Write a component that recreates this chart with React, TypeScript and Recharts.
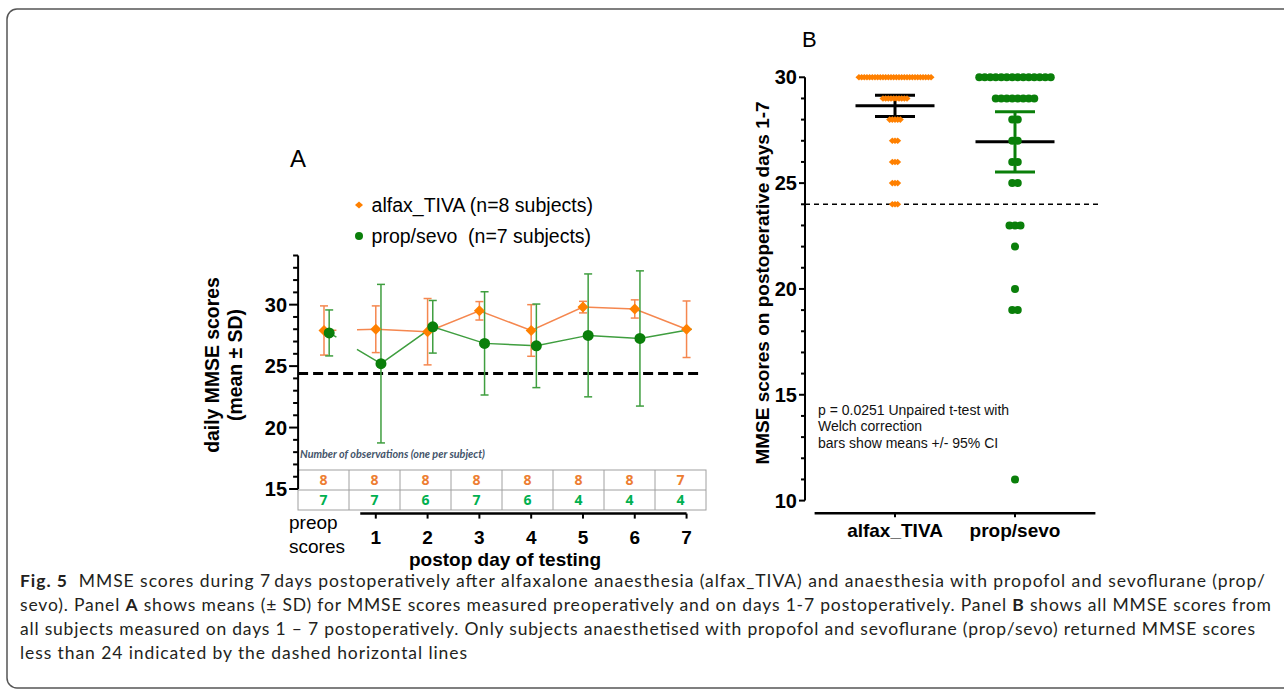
import {
  ComposedChart, Line, Scatter, XAxis, YAxis, ErrorBar, ReferenceLine, Legend,
} from 'recharts';

// ---- panel A: daily means ± SD (0 = preop, 1..7 = postop day) ----
const dayIdx = [0, 1, 2, 3, 4, 5, 6, 7];
const dayTicks = [1, 2, 3, 4, 5, 6, 7];
const alfaxMean = [27.9, 28.0, 27.8, 29.5, 27.9, 29.8, 29.65, 28.0];
const alfaxSd   = [2.0, 1.9, 2.7, 0.75, 2.1, 0.47, 0.74, 2.3];
const propMean  = [27.7, 25.2, 28.2, 26.85, 26.65, 27.5, 27.25, 28.0];
const propSd    = [1.87, 6.45, 2.14, 4.2, 3.4, 5.0, 5.5, 0];
const alfaxN = [8, 8, 8, 8, 8, 8, 8, 7];
const propN  = [7, 7, 6, 7, 6, 4, 4, 4];
const scoreTicksA = [15, 16, 17, 18, 19, 20, 21, 22, 23, 24, 25, 26, 27, 28, 29, 30, 31, 32, 33, 34];
const cutoffA = 24.4;

// ---- panel B: all postop scores, days 1-7 ----
const groups = ['alfax_TIVA', 'prop/sevo'];
const alfaxScores = [30, 29, 28, 27, 26, 25, 24];
const alfaxCounts = [28, 10, 5, 3, 3, 3, 3];
const propScores  = [30, 29, 28, 27, 26, 25, 23, 22, 20, 19, 11];
const propCounts  = [14, 8, 2, 2, 2, 2, 3, 1, 1, 2, 1];
const groupMean = [28.65, 26.95];
const groupCi   = [0.5, 1.42];
const scoreTicksB = [10, 11, 12, 13, 14, 15, 16, 17, 18, 19, 20, 21, 22, 23, 24, 25, 26, 27, 28, 29, 30];
const cutoffB = 24;

const SANS = '"Liberation Sans", Arial, sans-serif';
const CAPTION_FONT = 'Lato, "Noto Sans", sans-serif';
const ORANGE = '#ff8000';
const ORANGE_LINE = '#f5874f';
const GREEN = '#0a7f0a';
const GREEN_LINE = '#3f9e3f';
const TABLE_ORANGE = '#ed7d31';
const TABLE_GREEN = '#00b050';

const alfaxPts = dayIdx.map((x, i) => ({ x, y: alfaxMean[i], sd: alfaxSd[i] }));
const propPts  = dayIdx.map((x, i) => ({ x, y: propMean[i], sd: propSd[i] }));

// one point per observation; k = slot within its row (centred)
function swarm(g: number, scores: number[], counts: number[]) {
  const out: { x: number; y: number; k: number }[] = [];
  scores.forEach((s, i) => {
    const n = counts[i];
    for (let k = 0; k < n; k++) out.push({ x: g, y: s, k: k - (n - 1) / 2 });
  });
  return out;
}
const alfaxSwarm = swarm(1, alfaxScores, alfaxCounts);
const propSwarm  = swarm(2, propScores, propCounts);
const meansB = groups.map((_, i) => ({ x: i + 1, y: groupMean[i], ci: groupCi[i] }));

function TickA(p: any) {
  const v = p.payload.value;
  const major = v % 5 === 0;
  return (
    <g>
      <line x1={p.x} x2={p.x - (major ? 9 : 5)} y1={p.y} y2={p.y} stroke="#000" strokeWidth={2} />
      {major && (
        <text x={p.x - 11} y={p.y} dy="0.36em" textAnchor="end" fontSize={20} fontWeight={700} fontFamily={SANS} fill="#000">{v}</text>
      )}
    </g>
  );
}

function TickB(p: any) {
  const v = p.payload.value;
  const major = v % 5 === 0;
  return (
    <g>
      <line x1={p.x} x2={p.x - (major ? 6 : 4)} y1={p.y} y2={p.y} stroke="#000" strokeWidth={2} />
      {major && (
        <text x={p.x - 8} y={p.y} dy="0.36em" textAnchor="end" fontSize={20} fontWeight={700} fontFamily={SANS} fill="#000">{v}</text>
      )}
    </g>
  );
}

const diamondDot = (p: any) => (
  <polygon key={`d${p.index}`} fill={ORANGE}
    points={`${p.cx - 5.5},${p.cy} ${p.cx},${p.cy - 5.5} ${p.cx + 5.5},${p.cy} ${p.cx},${p.cy + 5.5}`} />
);
const circleDot = (p: any) => <circle key={`c${p.index}`} cx={p.cx} cy={p.cy} r={5.5} fill={GREEN} />;

const swarmDiamond = (p: any) => {
  const cx = p.cx + p.payload.k * 2.67;
  return <polygon fill={ORANGE} points={`${cx - 3.5},${p.cy} ${cx},${p.cy - 3.3} ${cx + 3.5},${p.cy} ${cx},${p.cy + 3.3}`} />;
};
const swarmCircle = (p: any) => <circle cx={p.cx + p.payload.k * 5.5} cy={p.cy} r={4} fill={GREEN} />;
const meanBar = (p: any) => (
  <line x1={p.cx - 39.5} x2={p.cx + 39.5} y1={p.cy} y2={p.cy} stroke="#000" strokeWidth={3} />
);

function LegendA({ payload }: any) {
  const items = (payload || []).filter((e: any) => e.type === 'diamond' || e.type === 'circle');
  return (
    <div style={{ fontFamily: SANS, fontSize: 19.5, color: '#000' }}>
      {items.map((e: any) => (
        <div key={e.value} style={{ display: 'flex', alignItems: 'center', height: 31, whiteSpace: 'pre' }}>
          <svg width={14} height={14}>
            {e.type === 'diamond'
              ? <polygon points="3,7 7,3.5 11,7 7,10.5" fill={ORANGE} />
              : <circle cx={7} cy={7} r={4} fill={GREEN} />}
          </svg>
          <span style={{ marginLeft: 5.6 }}>{e.value}</span>
        </div>
      ))}
    </div>
  );
}

function PanelA() {
  return (
    <ComposedChart width={720} height={560} margin={{ top: 255.5, right: 17.9, bottom: 16.4, left: 238.1 }}>
      <XAxis xAxisId="o" type="number" dataKey="x" domain={[-0.5, 7.3]} allowDataOverflow
        ticks={dayTicks} interval={0} height={30} axisLine={false}
        tickLine={{ stroke: '#000', strokeWidth: 2 }} tickSize={5} tickMargin={12}
        tick={{ fontSize: 19, fontWeight: 700, fill: '#000', fontFamily: SANS }} />
      <XAxis xAxisId="g" type="number" dataKey="x" domain={[-0.6, 7.2]} allowDataOverflow hide
        orientation="top" height={0} />
      <YAxis type="number" domain={[13, 34]} allowDataOverflow ticks={scoreTicksA} interval={0} width={60}
        axisLine={false} tickLine={false} tickSize={0} tickMargin={0} tick={(p: any) => <TickA {...p} />} />

      <ReferenceLine xAxisId="o" segment={[{ x: -0.5, y: 15 }, { x: -0.5, y: 34 }]} stroke="#000" strokeWidth={2} ifOverflow="visible" />
      <ReferenceLine xAxisId="o" segment={[{ x: 0.7, y: 13 }, { x: 7, y: 13 }]} stroke="#000" strokeWidth={2.5} ifOverflow="visible" />
      <ReferenceLine xAxisId="o" y={cutoffA} stroke="#000" strokeWidth={3} strokeDasharray="10 5" />

      {/* preop -> day 1 connectors, broken in the middle */}
      <Line xAxisId="o" data={alfaxPts.slice(0, 2)} dataKey="y" stroke={ORANGE_LINE} strokeWidth={1.5}
        strokeDasharray="12.4 20.6 100" dot={false} activeDot={false} legendType="none" isAnimationActive={false} />
      <Line xAxisId="g" data={propPts.slice(0, 2)} dataKey="y" stroke={GREEN_LINE} strokeWidth={1.5}
        strokeDasharray="8.4 23.9 100" dot={false} activeDot={false} legendType="none" isAnimationActive={false} />
      <Line xAxisId="o" data={alfaxPts.slice(1)} dataKey="y" stroke={ORANGE_LINE} strokeWidth={1.5}
        dot={false} activeDot={false} legendType="none" isAnimationActive={false} />
      <Line xAxisId="g" data={propPts.slice(1)} dataKey="y" stroke={GREEN_LINE} strokeWidth={1.5}
        dot={false} activeDot={false} legendType="none" isAnimationActive={false} />

      <Line xAxisId="o" data={alfaxPts} dataKey="y" name="alfax_TIVA (n=8 subjects)" stroke="none"
        dot={diamondDot} activeDot={false} legendType="diamond" isAnimationActive={false}>
        <ErrorBar dataKey="sd" direction="y" width={4} stroke={ORANGE_LINE} strokeWidth={1.5} />
      </Line>
      <Line xAxisId="g" data={propPts.slice(0, 7)} dataKey="y" name="prop/sevo  (n=7 subjects)" stroke="none"
        dot={circleDot} activeDot={false} legendType="circle" isAnimationActive={false}>
        <ErrorBar dataKey="sd" direction="y" width={4} stroke={GREEN_LINE} strokeWidth={1.5} />
      </Line>

      <Legend layout="vertical" align="center" verticalAlign="middle" content={LegendA}
        wrapperStyle={{ left: 352, top: 189.5, width: 300 }} />
    </ComposedChart>
  );
}

function PanelB() {
  return (
    <ComposedChart width={420} height={560} margin={{ top: 66.7, right: 21, bottom: 16.7, left: 45 }}>
      <XAxis type="number" dataKey="x" domain={[0.25, 2.7]} allowDataOverflow ticks={[1, 2]} interval={0}
        tickFormatter={(v: number) => groups[v - 1]} height={30} axisLine={false}
        tickLine={{ stroke: '#000', strokeWidth: 2 }} tickSize={4} tickMargin={6}
        tick={{ fontSize: 19, fontWeight: 700, fill: '#000', fontFamily: SANS }} />
      <YAxis type="number" dataKey="y" domain={[9.4, 30.5]} allowDataOverflow ticks={scoreTicksB} interval={0} width={60}
        axisLine={false} tickLine={false} tickSize={0} tickMargin={0} tick={(p: any) => <TickB {...p} />} />

      <ReferenceLine segment={[{ x: 0.25, y: 10 }, { x: 0.25, y: 30 }]} stroke="#000" strokeWidth={2} ifOverflow="visible" />
      <ReferenceLine segment={[{ x: 0.33, y: 9.4 }, { x: 2.67, y: 9.4 }]} stroke="#000" strokeWidth={2.5} ifOverflow="visible" />
      <ReferenceLine y={cutoffB} stroke="#000" strokeWidth={1.5} strokeDasharray="5 4" />

      <Scatter data={meansB.slice(0, 1)} shape={meanBar} isAnimationActive={false}>
        <ErrorBar dataKey="ci" direction="y" width={20} stroke="#000" strokeWidth={3} />
      </Scatter>
      <Scatter data={meansB.slice(1)} shape={meanBar} isAnimationActive={false}>
        <ErrorBar dataKey="ci" direction="y" width={20} stroke={GREEN} strokeWidth={3} />
      </Scatter>
      <Scatter data={alfaxSwarm} shape={swarmDiamond} isAnimationActive={false} />
      <Scatter data={propSwarm} shape={swarmCircle} isAnimationActive={false} />
    </ComposedChart>
  );
}

const captionLines: [string, boolean][][] = [
  [['Fig. 5', true], ['  MMSE scores during 7\u2009days postoperatively after alfaxalone anaesthesia (alfax_TIVA) and anaesthesia with propofol and sevoflurane (prop/', false]],
  [['sevo). Panel ', false], ['A', true], [' shows means (\u00b1 SD) for MMSE scores measured preoperatively and on days 1-7 postoperatively. Panel ', false], ['B', true], [' shows all MMSE scores from', false]],
  [['all subjects measured on days 1 \u2013 7 postoperatively. Only subjects anaesthetised with propofol and sevoflurane (prop/sevo) returned MMSE scores', false]],
  [['less than 24 indicated by the dashed horizontal lines', false]],
];
const captionWidths = [1245, 1251, 1235, 447];

function Overlay() {
  const colL = 298;
  const colW = 51;
  return (
    <svg width={1284} height={693} style={{ position: 'absolute', left: 0, top: 0 }}>
      <rect x={7} y={9} width={1300} height={679} rx={10} fill="none" stroke="#555" strokeWidth={1.5} />

      {/* panel A texts */}
      <text x={290} y={167} fontSize={24} fontFamily={SANS} fill="#000">A</text>
      <g fontFamily={SANS} fontWeight={700} fontSize={19.4} fill="#000" textAnchor="middle">
        <text transform="translate(219,365) rotate(-90)">daily MMSE scores</text>
        <text transform="translate(242,365) rotate(-90)">(mean ± SD)</text>
      </g>
      <text x={289} y={529} fontSize={19} fontFamily={SANS} fill="#000">preop</text>
      <text x={289} y={553} fontSize={19} fontFamily={SANS} fill="#000">scores</text>
      <text x={505} y={566} fontSize={19} fontWeight={700} fontFamily={SANS} fill="#000" textAnchor="middle">postop day of testing</text>
      <text x={300} y={458} fontSize={10.5} fontStyle="italic" fontWeight={700} fontFamily={CAPTION_FONT}
        fill="#44546a" textLength={185} lengthAdjust="spacingAndGlyphs">Number of observations (one per subject)</text>

      {/* observations table */}
      <g stroke="#a0a0a0" strokeWidth={1} fill="none">
        <rect x={colL} y={470} width={colW * 8} height={40} />
        <line x1={colL} x2={colL + colW * 8} y1={490} y2={490} />
        {dayIdx.slice(1).map(i => (
          <line key={i} x1={colL + colW * i} x2={colL + colW * i} y1={470} y2={510} />
        ))}
      </g>
      <g fontFamily='"Open Sans", "Noto Sans", sans-serif' fontWeight={700} fontSize={14} textAnchor="middle">
        {alfaxN.map((n, i) => (
          <text key={`a${i}`} x={colL + colW * (i + 0.5)} y={485} fill={TABLE_ORANGE}>{n}</text>
        ))}
        {propN.map((n, i) => (
          <text key={`p${i}`} x={colL + colW * (i + 0.5)} y={505} fill={TABLE_GREEN}>{n}</text>
        ))}
      </g>

      {/* panel B texts */}
      <text x={802} y={47} fontSize={22} fontFamily={SANS} fill="#000">B</text>
      <text transform="translate(769,283) rotate(-90)" textAnchor="middle" fontFamily={SANS} fontWeight={700}
        fontSize={19} fill="#000">MMSE scores on postoperative days 1-7</text>
      <g fontFamily={SANS} fontSize={14} fill="#111">
        <text x={818} y={415}>p = 0.0251 Unpaired t-test with</text>
        <text x={818} y={431}>Welch correction</text>
        <text x={818} y={448}>bars show means +/- 95% CI</text>
      </g>

      {/* caption */}
      <g fontFamily={CAPTION_FONT} fontSize={17.5} fill="#231f20">
        {captionLines.map((segs, li) => (
          <text key={li} x={20} y={587 + li * 24} textLength={captionWidths[li]} lengthAdjust="spacing"
            style={{ whiteSpace: 'pre' }}>
            {segs.map(([t, b], si) => (
              <tspan key={si} fontWeight={b ? 700 : 400}>{t}</tspan>
            ))}
          </text>
        ))}
      </g>
    </svg>
  );
}

export default function App() {
  return (
    <div style={{ position: 'absolute', left: 0, top: 0, width: 1284, height: 693, background: '#fff', overflow: 'hidden' }}>
      <Overlay />
      <div style={{ position: 'absolute', left: 0, top: 0 }}>
        <PanelA />
      </div>
      <div style={{ position: 'absolute', left: 700, top: 0 }}>
        <PanelB />
      </div>
    </div>
  );
}
